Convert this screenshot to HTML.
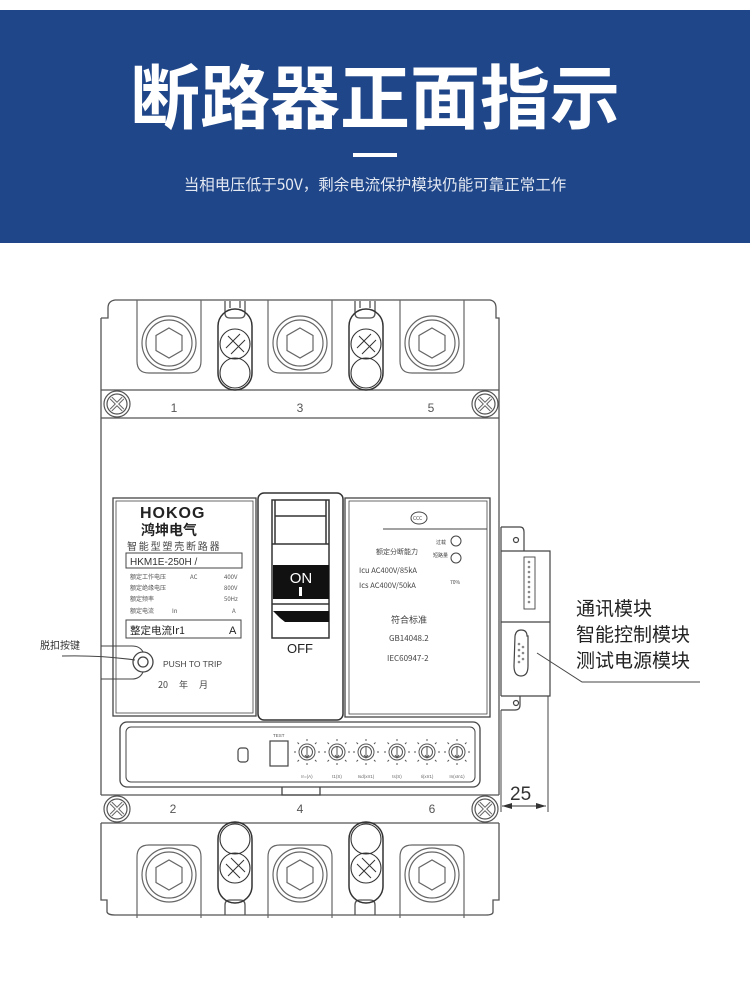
<!DOCTYPE html>
<html><head><meta charset="utf-8"><style>
body{margin:0;width:750px;height:1008px;background:#fff;overflow:hidden;position:relative;font-family:"Liberation Sans","Noto Sans CJK SC",sans-serif}
.band{position:absolute;left:0;top:10px;width:750px;height:233px;background:#1f4689}
.title{position:absolute;left:0;width:750px;top:52px;text-align:center;color:#fff;font-size:70px;font-weight:bold;letter-spacing:0px;line-height:84px;font-family:"Noto Sans CJK SC",sans-serif}
.dash{position:absolute;left:353px;top:153px;width:44px;height:4px;background:#fff}
.sub{position:absolute;left:0;width:750px;top:173px;text-align:center;color:#e4e9f2;font-size:15.5px;font-family:"Noto Sans CJK SC",sans-serif}
svg{position:absolute;left:0;top:0}
</style></head><body>
<div class="band"></div>
<div class="title">断路器正面指示</div>
<div class="dash"></div>
<div class="sub">当相电压低于50V，剩余电流保护模块仍能可靠正常工作</div>
<svg width="750" height="1008" viewBox="0 0 750 1008" font-family="Liberation Sans, Noto Sans CJK SC, sans-serif">
<defs>
<g id="term" fill="none" stroke="#666" stroke-width="1.2">
<path d="M-32,-43 V18 Q-32,30 -20,30 H20 Q32,30 32,18 V-43"/>
<circle r="27"/><circle r="23"/>
<polygon points="0,-15 13,-7.5 13,7.5 0,15 -13,7.5 -13,-7.5"/>
</g>
<g id="slot" fill="none" stroke="#333" stroke-width="1.5">
<path d="M-17,-18 A17,17 0 0 1 17,-18 V29 A17,17 0 0 1 -17,29 Z"/>
<circle r="15" stroke-width="1.1"/>
<circle cy="29" r="15" stroke-width="1.1"/>
<path d="M-7,-8 L9,8 M-9,4 L5,-10 M-4,10 L10,-4" stroke-width="1"/>
</g>
<g id="screw" fill="none" stroke="#555" stroke-width="1.2">
<circle r="13"/><circle r="10"/>
<path d="M-6,-6 L6,6 M6,-6 L-6,6" stroke-width="3.5" stroke="#666"/>
<path d="M-6,-6 L6,6 M6,-6 L-6,6" stroke-width="1.5" stroke="#fff"/>
</g>
<g id="dial" fill="none" stroke="#555" stroke-width="1">
<circle r="8"/><circle r="5.5"/><path d="M0,-5 V6 M-2,3 L0,6 L2,3"/>
<path d="M0,-11 V-13 M8,-8 L9.5,-9.5 M11,0 H13 M8,8 L9.5,9.5 M0,11 V13 M-8,8 L-9.5,9.5 M-11,0 H-13 M-8,-8 L-9.5,-9.5"/>
</g>
</defs>
<g fill="none" stroke="#555" stroke-width="1.3">
<path d="M101,318 H108 V308 Q108,301 115,300 H490 Q496,301 496,308 V318 H499 V795 M101,318 V795"/>
<path d="M101,390 H499 M101,418 H499"/>
<path d="M101,795 H499 M101,823 H499"/>
<path d="M101,823 V900 H107 V912 Q108,915 115,915 H486 Q493,915 493,912 V900 H499 V823"/>
<path d="M225,301 V313 Q225,318 230,318 H240 Q245,318 245,313 V301 M230,301 V308 M240,301 V308"/>
<path d="M355,301 V313 Q355,318 360,318 H370 Q375,318 375,313 V301 M360,301 V308 M370,301 V308"/>
<path d="M225,915 V905 Q225,900 230,900 H240 Q245,900 245,905 V915"/>
<path d="M355,915 V905 Q355,900 360,900 H370 Q375,900 375,905 V915"/>
</g>
<use href="#term" x="169" y="343"/><use href="#term" x="300" y="343"/><use href="#term" x="432" y="343"/>
<g transform="translate(0,1218) scale(1,-1)"><use href="#term" x="169" y="343"/><use href="#term" x="300" y="343"/><use href="#term" x="432" y="343"/></g>
<use href="#slot" x="235" y="344"/><use href="#slot" x="366" y="344"/>
<g transform="translate(0,1212) scale(1,-1)"><use href="#slot" x="235" y="344"/><use href="#slot" x="366" y="344"/></g>
<use href="#screw" x="117" y="404"/><use href="#screw" x="485" y="404"/>
<use href="#screw" x="117" y="809"/><use href="#screw" x="485" y="809"/>
<g font-size="12" fill="#555" text-anchor="middle">
<text x="174" y="412">1</text><text x="300" y="412">3</text><text x="431" y="412">5</text>
<text x="173" y="813">2</text><text x="300" y="813">4</text><text x="432" y="813">6</text>
</g>
<g fill="none" stroke="#444" stroke-width="1.3">
<rect x="113" y="498" width="143" height="218"/>
<rect x="116" y="501" width="137" height="212" stroke-width="0.8"/>
<rect x="126" y="553" width="116" height="15" stroke-width="1"/>
<rect x="126" y="620" width="115" height="18" stroke-width="1"/>
<path d="M101,646 H132 Q140,646 143,652 M101,679 H132 Q140,679 143,672" stroke-width="1"/>
<circle cx="143" cy="662" r="10"/><circle cx="143" cy="662" r="5"/>
<path d="M62,656 Q100,655 135,660" stroke-width="1"/>
</g>
<g fill="#222">
<text x="140" y="518" font-size="16" font-weight="bold" letter-spacing="1">HOKOG</text>
<text x="141" y="535" font-size="14" font-weight="bold" font-family="Noto Sans CJK SC, sans-serif">鸿坤电气</text>
<text x="127" y="550" font-size="10" font-family="Noto Sans CJK SC, sans-serif" fill="#444" letter-spacing="1.8">智能型塑壳断路器</text>
<text x="130" y="565" font-size="10" fill="#333">HKM1E-250H  /</text>
<g font-size="6" fill="#555" font-family="Noto Sans CJK SC, sans-serif">
<text x="130" y="579">额定工作电压</text><text x="190" y="579">AC</text><text x="224" y="579">400V</text>
<text x="130" y="590">额定绝缘电压</text><text x="224" y="590">800V</text>
<text x="130" y="601">额定频率</text><text x="224" y="601">50Hz</text>
<text x="130" y="613">额定电流</text><text x="172" y="613">In</text><text x="232" y="613">A</text>
</g>
<text x="130" y="634" font-size="10.5" font-family="Noto Sans CJK SC, sans-serif">整定电流Ir1</text>
<text x="229" y="634" font-size="11">A</text>
<text x="163" y="667" font-size="8.5" fill="#444">PUSH TO TRIP</text>
<text x="158" y="688" font-size="9" fill="#444" font-family="Noto Sans CJK SC, sans-serif">20　 年 　月</text>
<text x="40" y="649" font-size="10" fill="#333" font-family="Noto Sans CJK SC, sans-serif">脱扣按键</text>
</g>
<g fill="none" stroke="#333" stroke-width="1.5">
<rect x="258" y="493" width="85" height="227" rx="6"/>
<rect x="272" y="500" width="57" height="138"/>
<path d="M275,500 V544 M326,500 V544 M275,516 H326 M272,544 H329"/>
<path d="M272,604 H329"/>
</g>
<rect x="273" y="565" width="56" height="34" fill="#111"/>
<path d="M273,611 H329 V622 H285 L280,618 Z" fill="#111"/>
<text x="301" y="583" font-size="15" fill="#fff" text-anchor="middle">ON</text>
<rect x="299" y="587" width="3" height="9" fill="#fff"/>
<text x="300" y="653" font-size="13" fill="#222" text-anchor="middle">OFF</text>
<g fill="none" stroke="#444" stroke-width="1.3">
<rect x="345" y="498" width="145" height="219"/>
<rect x="349" y="501" width="138" height="213" stroke-width="0.8"/>
<path d="M383,529 H487" stroke-width="1"/>
<ellipse cx="419" cy="518" rx="8" ry="6" stroke-width="1"/>
<circle cx="456" cy="541" r="5" stroke-width="1"/><circle cx="456" cy="558" r="5" stroke-width="1"/>
</g>
<g fill="#444" font-family="Noto Sans CJK SC, sans-serif">
<text x="413" y="520" font-size="5">CCC</text>
<text x="376" y="554" font-size="7">额定分断能力</text>
<text x="436" y="544" font-size="5">过载</text>
<text x="433" y="557" font-size="5">短路量</text>
<text x="359" y="573" font-size="7.5">Icu  AC400V/85kA</text>
<text x="359" y="588" font-size="7.5">Ics  AC400V/50kA</text>
<text x="450" y="584" font-size="5">70%</text>
<text x="391" y="623" font-size="9">符合标准</text>
<text x="389" y="641" font-size="8">GB14048.2</text>
<text x="387" y="661" font-size="8">IEC60947-2</text>
</g>
<g fill="none" stroke="#444" stroke-width="1.3">
<rect x="120" y="722" width="360" height="65" rx="7"/>
<rect x="126" y="727" width="349" height="55" rx="5" stroke-width="1"/>
<path d="M282,787 V795 H320 V787"/>
<rect x="238" y="748" width="10" height="14" rx="3" stroke-width="1.2"/>
<rect x="270" y="741" width="18" height="25" stroke-width="1.2"/>
</g>
<text x="273" y="737" font-size="4.5" fill="#555">TEST</text>
<use href="#dial" x="307" y="752"/><use href="#dial" x="337" y="752"/><use href="#dial" x="366" y="752"/>
<use href="#dial" x="397" y="752"/><use href="#dial" x="427" y="752"/><use href="#dial" x="457" y="752"/>
<g font-size="4.5" fill="#666" text-anchor="middle">
<text x="307" y="778">Ir=(A)</text><text x="337" y="778">t1(S)</text><text x="366" y="778">Isd(xIr1)</text>
<text x="397" y="778">ts(S)</text><text x="427" y="778">Ii(xIr1)</text><text x="457" y="778">In(xIn1)</text>
</g>
<g fill="none" stroke="#444" stroke-width="1.2">
<path d="M501,527 H520 Q524,527 524,532 V551 M501,551 H550 V696 H501 M501,527 V696"/>
<circle cx="516" cy="540" r="2.5"/>
<path d="M501,622 H550"/>
<rect x="524" y="557" width="11" height="52" stroke-width="0.9"/>
<path d="M520,696 V705 Q520,710 515,710 H501"/>
<circle cx="516" cy="703" r="2.5"/>
<path d="M515,636 Q516,630 521,630 Q527,630 527,636 H528 V666 Q528,676 521,676 Q514,676 514,666 Z"/>
<path d="M548,696 V812 M501,710 V812" stroke-width="1"/>
<path d="M537,653 L582,682 H700" stroke-width="1"/>
</g>
<g fill="#888"><circle cx="529" cy="562" r="1.3"/><circle cx="529" cy="567" r="1.3"/><circle cx="529" cy="572" r="1.3"/><circle cx="529" cy="577" r="1.3"/><circle cx="529" cy="582" r="1.3"/><circle cx="529" cy="587" r="1.3"/><circle cx="529" cy="592" r="1.3"/><circle cx="529" cy="597" r="1.3"/><circle cx="529" cy="602" r="1.3"/>
<circle cx="519" cy="644" r="1.3"/><circle cx="519" cy="650" r="1.3"/><circle cx="519" cy="656" r="1.3"/><circle cx="519" cy="662" r="1.3"/><circle cx="523" cy="647" r="1.3"/><circle cx="523" cy="653" r="1.3"/><circle cx="523" cy="659" r="1.3"/></g>
<path d="M502,806 H546" stroke="#333" stroke-width="1"/>
<path d="M502,806 L512,803 L512,809 Z M546,806 L536,803 L536,809 Z" fill="#333"/>
<text x="510" y="800" font-size="19" fill="#333">25</text>
<g font-size="19" fill="#222" font-family="Noto Sans CJK SC, sans-serif">
<text x="576" y="615">通讯模块</text>
<text x="576" y="641">智能控制模块</text>
<text x="576" y="667">测试电源模块</text>
</g>
</svg>
</body></html>
